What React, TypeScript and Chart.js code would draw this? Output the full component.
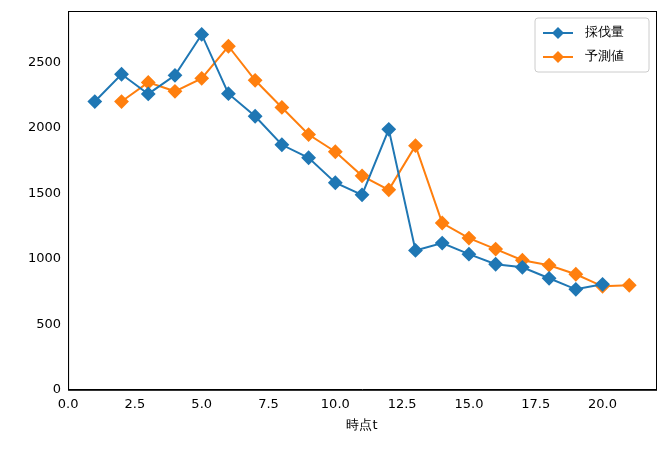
import React, { useEffect, useRef } from "react";
import { Chart, registerables } from "chart.js";
Chart.register(...registerables);

const xs1 = [1,2,3,4,5,6,7,8,9,10,11,12,13,14,15,16,17,18,19,20];
const harvest = [2200,2408,2258,2400,2712,2260,2088,1870,1771,1580,1488,1988,1064,1120,1035,958,935,851,767,805];
const xs2 = [2,3,4,5,6,7,8,9,10,11,12,13,14,15,16,17,18,19,20,21];
const forecast = [2200,2346,2278,2377,2622,2362,2155,1948,1817,1633,1526,1863,1273,1158,1074,989,951,882,790,798];
const labels = ["採伐量", "予測値"];
const colors = ["#1f77b4", "#ff7f0e"];
const FONT = "DejaVu Sans";

const frame = {
  id: "frame",
  afterDatasetsDraw(c: any) {
    const { ctx, chartArea: a } = c;
    ctx.save();
    ctx.strokeStyle = "#000"; ctx.lineWidth = 1;
    ctx.strokeRect(a.left + 0.5, a.top + 0.5, a.right - a.left, a.bottom - a.top);
    const w = 114, h = 54, x = a.right - w - 7, y = a.top + 7;
    ctx.fillStyle = "rgba(255,255,255,0.8)";
    ctx.strokeStyle = "#ccc";
    ctx.beginPath(); ctx.roundRect(x, y, w, h, 3); ctx.fill(); ctx.stroke();
    ctx.font = `13px ${FONT}`; ctx.textBaseline = "middle";
    labels.forEach((l, i) => {
      const yy = y + 15 + i * 24;
      ctx.strokeStyle = colors[i]; ctx.lineWidth = 2;
      ctx.beginPath(); ctx.moveTo(x + 8, yy); ctx.lineTo(x + 38, yy); ctx.stroke();
      ctx.fillStyle = colors[i];
      ctx.beginPath(); ctx.moveTo(x + 23, yy - 6); ctx.lineTo(x + 29, yy); ctx.lineTo(x + 23, yy + 6); ctx.lineTo(x + 17, yy); ctx.closePath(); ctx.fill();
      ctx.fillStyle = "#000"; ctx.fillText(l, x + 50, yy);
    });
    ctx.restore();
  },
};

export default function App() {
  const ref = useRef<HTMLCanvasElement>(null);
  useEffect(() => {
    const mk = (xs: number[], ys: number[], i: number) => ({
      label: labels[i], data: xs.map((x, k) => ({ x, y: ys[k] })),
      borderColor: colors[i], backgroundColor: colors[i], borderWidth: 2,
      pointStyle: "rectRot", pointRadius: 6, pointHoverRadius: 6,
    });
    const ch = new Chart(ref.current!, {
      type: "line",
      data: { datasets: [mk(xs1, harvest, 0), mk(xs2, forecast, 1)] as any },
      options: {
        animation: false, responsive: false,
        layout: { padding: { left: 25, right: 9, top: 11, bottom: 17 } },
        plugins: { legend: { display: false }, tooltip: { enabled: false } },
        scales: {
          x: {
            type: "linear", min: 0, max: 22,
            grid: { display: false, drawTicks: true, tickLength: 4, tickColor: "#000" } as any,
            border: { color: "#000" },
            ticks: { color: "#000", font: { family: FONT, size: 13 }, callback: (v: any) => Number(v).toFixed(1) },
            afterBuildTicks: (s: any) => { s.ticks = [0,2.5,5,7.5,10,12.5,15,17.5,20].map(v => ({ value: v })); },
            title: { display: true, text: "時点t", color: "#000", font: { family: FONT, size: 13 }, padding: 2 },
          },
          y: {
            min: 0, max: 2891,
            grid: { display: false, tickLength: 4, tickColor: "#000" } as any,
            border: { color: "#000" },
            ticks: { color: "#000", font: { family: FONT, size: 13 }, callback: (v: any) => String(v) },
            afterBuildTicks: (s: any) => { s.ticks = [0,500,1000,1500,2000,2500].map(v => ({ value: v })); },
          },
        },
      },
      plugins: [frame],
    });
    return () => ch.destroy();
  }, []);
  return <canvas ref={ref} width={665} height={452} style={{ display: "block", margin: -8 }} />;
}
